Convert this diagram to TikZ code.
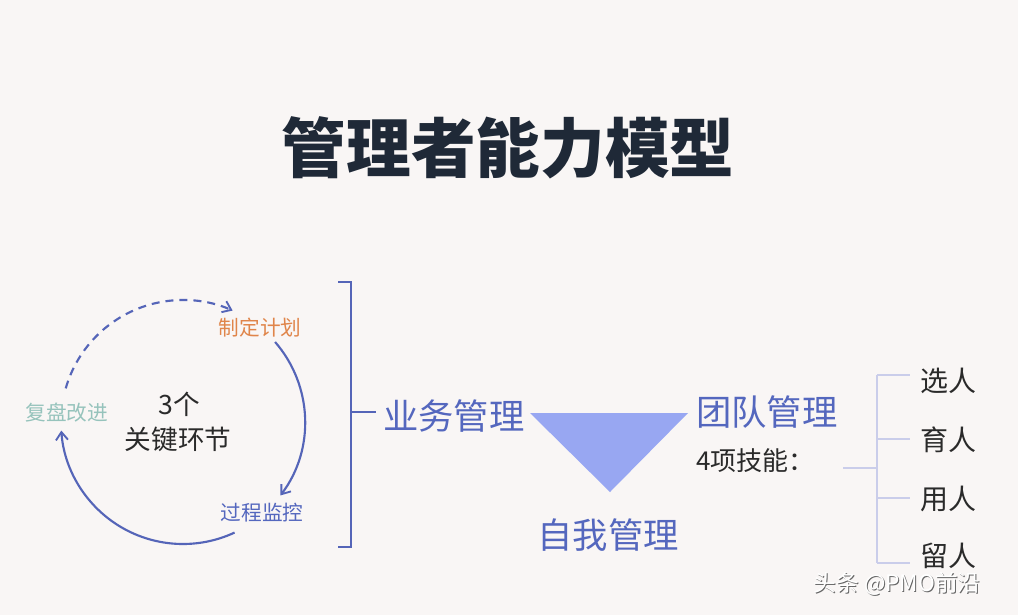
\documentclass[tikz,border=0pt]{standalone}
\usepackage{fontspec}
\setmainfont{Noto Sans CJK SC}
\usetikzlibrary{arrows.meta}
\definecolor{bg}{HTML}{F9F6F5}
\definecolor{titlec}{HTML}{1F2937}
\definecolor{orangec}{HTML}{E0854A}
\definecolor{bluec}{HTML}{5467BE}
\definecolor{tealc}{HTML}{96C3BC}
\definecolor{linec}{HTML}{5565B8}
\definecolor{tric}{HTML}{98A7F2}
\definecolor{treec}{HTML}{CACDEA}
\definecolor{darkc}{HTML}{2A2A2A}
\tikzset{
  cyc/.style={draw=linec, line width=1.6pt, -{Straight Barb[length=6pt,width=9pt,line width=1.4pt]}},
  brk/.style={draw=linec, line width=1.6pt},
  tree/.style={draw=treec, line width=2.2pt},
  small/.style={font=\fontsize{15.5}{18}\selectfont, inner sep=0pt},
  big/.style={font=\fontsize{26.5}{30}\selectfont, text=bluec, inner sep=0pt},
  leaf/.style={font=\fontsize{21}{24}\selectfont, text=darkc, inner sep=0pt},
}
\begin{document}
\begin{tikzpicture}[x=0.75pt,y=-0.75pt]
\fill[bg] (0,0) rectangle (1018,615);
\useasboundingbox (0,0) rectangle (1018,615);
% title
\node[font=\fontsize{48.5}{52}\selectfont\bfseries, text=titlec, inner sep=0pt] (title) at (508,148) {管理者能力模型};
% cycle
\coordinate (cc) at (183,422);
\draw[cyc, dash pattern=on 6pt off 4.5pt] (cc) ++(-164:122) arc[start angle=-164, end angle=-66, radius=122];
\draw[cyc] (cc) ++(-41:122) arc[start angle=-41, end angle=37, radius=122];
\draw[cyc] (cc) ++(65:122) arc[start angle=65, end angle=176, radius=122];
\node[small, text=orangec] (plan) at (260,328) {制定计划};
\node[small, text=bluec] (monitor) at (262,513) {过程监控};
\node[small, text=tealc] (review) at (67,413) {复盘改进};
\node[font=\fontsize{20}{24}\selectfont, text=darkc, inner sep=0pt] (three) at (179,404) {3个};
\node[font=\fontsize{20}{24}\selectfont, text=darkc, inner sep=0pt] (key) at (178,439) {关键环节};
% bracket
\coordinate (bt0) at (338,282);
\coordinate (bt) at (351,282);
\coordinate (bb) at (351,547);
\coordinate (bb0) at (338,547);
\coordinate (bm) at (351,412);
\coordinate (bmr) at (376,412);
\draw[brk] (bt0) -- (bt) -- (bb) -- (bb0);
\draw[brk] (bm) -- (bmr);
\node[big, anchor=west] (biz) at (383,416) {业务管理};
% triangle
\coordinate (tl) at (530,413);
\coordinate (tr) at (688,413);
\coordinate (tb) at (610,492);
\fill[tric] (tl) -- (tr) -- (tb) -- cycle;
\node[big] (self) at (608,535) {自我管理};
\node[big, anchor=west] (team) at (696,412) {团队管理};
\node[font=\fontsize{19.5}{22}\selectfont, text=darkc, inner sep=0pt, anchor=west] (skills) at (696,461) {4项技能：};
% tree
\coordinate (ts) at (843,468);
\coordinate (tj) at (877,468);
\coordinate (t1) at (877,375);
\coordinate (t2) at (877,439);
\coordinate (t3) at (877,498);
\coordinate (t4) at (877,563);
\coordinate (e1) at (910,375);
\coordinate (e2) at (910,439);
\coordinate (e3) at (910,498);
\coordinate (e4) at (910,563);
\draw[tree] (ts) -- (tj);
\draw[tree] (t1) -- (t4);
\draw[tree] (t1) -- (e1);
\draw[tree] (t2) -- (e2);
\draw[tree] (t3) -- (e3);
\draw[tree] (t4) -- (e4);
\node[leaf] (s1) at (948,381) {选人};
\node[leaf] (s2) at (948,440) {育人};
\node[leaf] (s3) at (948,499) {用人};
\node[leaf] (s4) at (948,556) {留人};
% watermark
\node[font=\fontsize{17}{20}\selectfont, text=black!60, inner sep=0pt] (wms) at (898,585) {头条 @PMO前沿};
\node[font=\fontsize{17}{20}\selectfont, text=white, inner sep=0pt] (wm) at (897,584) {头条 @PMO前沿};
\end{tikzpicture}
\end{document}
